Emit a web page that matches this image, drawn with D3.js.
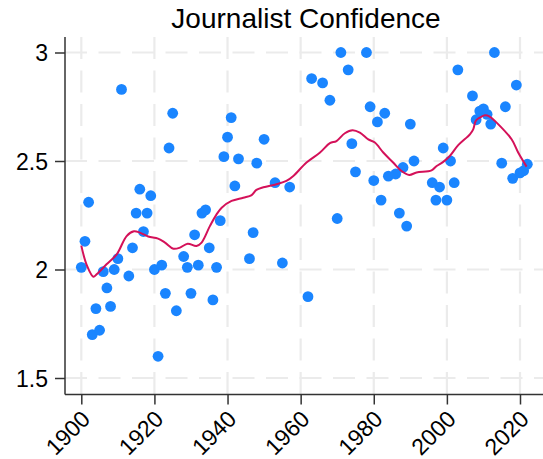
<html lang="en">
<head>
  <meta charset="UTF-8">
  <title>Journalist Confidence</title>
  <style>
    body { margin: 0; background: #fff; }
    svg { display: block; font-family: "Liberation Sans", Arial, sans-serif; }
  </style>
</head>
<body>
  <div id="chart"></div>
  <script src="https://d3js.org/d3.v7.min.js"></script>
  <script>
    // scatter data (year, mean confidence)
    const years = [1900, 1901, 1902, 1903, 1904, 1905, 1906, 1907, 1908, 1909,
      1910, 1911, 1913, 1914, 1915, 1916, 1917, 1918, 1919, 1920,
      1921, 1922, 1923, 1924, 1925, 1926, 1928, 1929, 1930, 1931,
      1932, 1933, 1934, 1935, 1936, 1937, 1938, 1939, 1940, 1941,
      1942, 1943, 1946, 1947, 1948, 1950, 1953, 1955, 1957, 1962,
      1963, 1966, 1968, 1970, 1971, 1973, 1974, 1975, 1978, 1979,
      1980, 1981, 1982, 1983, 1984, 1986, 1987, 1988, 1989, 1990,
      1991, 1996, 1997, 1998, 1999, 2000, 2001, 2002, 2003, 2007,
      2008, 2009, 2010, 2011, 2012, 2013, 2015, 2016, 2018, 2019,
      2020, 2021, 2022];
    const confidence = [2.01, 2.13, 2.31, 1.70, 1.82, 1.72, 1.99, 1.915, 1.83, 2.00,
      2.05, 2.83, 1.97, 2.10, 2.26, 2.37, 2.175, 2.26, 2.34, 2.00,
      1.60, 2.02, 1.89, 2.56, 2.72, 1.81, 2.06, 2.01, 1.89, 2.16,
      2.02, 2.26, 2.275, 2.10, 1.86, 2.01, 2.225, 2.52, 2.61, 2.70,
      2.385, 2.51, 2.05, 2.17, 2.49, 2.60, 2.40, 2.03, 2.38, 1.875,
      2.88, 2.86, 2.78, 2.235, 3.00, 2.92, 2.58, 2.45, 3.00, 2.75,
      2.41, 2.68, 2.32, 2.72, 2.43, 2.44, 2.26, 2.47, 2.20, 2.67,
      2.50, 2.40, 2.32, 2.38, 2.56, 2.32, 2.50, 2.40, 2.92, 2.80,
      2.69, 2.73, 2.74, 2.715, 2.67, 3.00, 2.49, 2.75, 2.42, 2.85,
      2.445, 2.455, 2.485];

    // smoothed trend line
    const smoothYears = [1900, 1901.5, 1903.3, 1904.2, 1906.9, 1909.7, 1912.4, 1914.4, 1916, 1918.3,
      1921, 1922.9, 1925.2, 1927, 1929.1, 1931.5, 1932.9, 1935.2, 1937, 1938.4,
      1941.1, 1944.3, 1946.6, 1947.9, 1949.8, 1953.4, 1956.1, 1958, 1961.6, 1965.3,
      1968, 1969.8, 1972.1, 1974.2, 1976.2, 1978.5, 1980.3, 1982.6, 1985.3, 1987.6,
      1989.7, 1991.7, 1995.8, 1997.2, 1999, 2000.8, 2003.1, 2006.3, 2007.2, 2007.9,
      2009, 2010.4, 2011.7, 2013.6, 2017.7, 2019.5, 2021.8];
    const smoothValues = [2.11, 2.02, 1.967, 1.978, 2.024, 2.07, 2.154, 2.176, 2.17, 2.152,
      2.142, 2.124, 2.096, 2.101, 2.119, 2.108, 2.124, 2.201, 2.254, 2.285,
      2.316, 2.331, 2.343, 2.367, 2.379, 2.393, 2.408, 2.431, 2.493, 2.539,
      2.582, 2.592, 2.628, 2.642, 2.631, 2.60, 2.585, 2.539, 2.493, 2.454,
      2.436, 2.447, 2.457, 2.477, 2.496, 2.523, 2.573, 2.623, 2.646, 2.685,
      2.70, 2.711, 2.705, 2.677, 2.60, 2.539, 2.474];

    const xTicks = [1900, 1920, 1940, 1960, 1980, 2000, 2020];
    const yTicks = [1.5, 2, 2.5, 3];

    const w = 543, h = 459;
    const plotLeft = 65, plotRight = 543, plotTop = 37, plotBottom = 394.5;

    const svg = d3.select("#chart").append("svg")
      .attr("width", w)
      .attr("height", h);

    const xScale = d3.scaleLinear().domain([1900, 2020]).range([81.3, 520]);
    const yScale = d3.scaleLinear().domain([1.5, 3]).range([378, 52.5]);

    // dashed grid
    const grid = svg.append("g")
      .attr("stroke", "#ebebeb")
      .attr("stroke-width", 2.2)
      .attr("stroke-dasharray", "22,11.5");
    grid.selectAll(".hgrid").data(yTicks).enter().append("line")
      .attr("x1", plotLeft).attr("x2", plotRight)
      .attr("y1", d => yScale(d)).attr("y2", d => yScale(d));
    grid.selectAll(".vgrid").data(xTicks).enter().append("line")
      .attr("x1", d => xScale(d)).attr("x2", d => xScale(d))
      .attr("y1", plotTop).attr("y2", plotBottom);

    // points
    svg.append("g").selectAll("circle")
      .data(years.map((y, i) => [y, confidence[i]]))
      .enter().append("circle")
      .attr("cx", d => xScale(d[0]))
      .attr("cy", d => yScale(d[1]))
      .attr("r", 5.4)
      .attr("fill", "#1a85ff");

    // smoother
    const line = d3.line()
      .x(d => xScale(d[0]))
      .y(d => yScale(d[1]))
      .curve(d3.curveCatmullRom);
    svg.append("path")
      .datum(smoothYears.map((y, i) => [y, smoothValues[i]]))
      .attr("d", line)
      .attr("fill", "none")
      .attr("stroke", "#d41159")
      .attr("stroke-width", 2);

    // axes
    const yAxis = svg.append("g")
      .attr("transform", "translate(" + plotLeft + ",0)")
      .call(d3.axisLeft(yScale).tickValues(yTicks).tickSize(10).tickPadding(7).tickFormat(d3.format("")));
    const xAxis = svg.append("g")
      .attr("transform", "translate(0," + plotBottom + ")")
      .call(d3.axisBottom(xScale).tickValues(xTicks).tickSize(10).tickFormat(d3.format("d")));

    [yAxis, xAxis].forEach(g => {
      g.select(".domain").remove();
      g.selectAll("line").attr("stroke", "#333").attr("stroke-width", 1.5);
      g.selectAll("text").attr("fill", "#000").style("font-size", "23px");
    });
    yAxis.selectAll("text").attr("dy", "0.36em");

    xAxis.selectAll("text")
      .attr("text-anchor", "end")
      .attr("dy", "0.36em")
      .attr("y", 0)
      .attr("transform", "translate(4,20) rotate(-45)");

    svg.append("line")
      .attr("x1", plotLeft).attr("x2", plotLeft)
      .attr("y1", plotTop).attr("y2", plotBottom)
      .attr("stroke", "#333").attr("stroke-width", 1.5);
    svg.append("line")
      .attr("x1", plotLeft).attr("x2", plotRight)
      .attr("y1", plotBottom).attr("y2", plotBottom)
      .attr("stroke", "#333").attr("stroke-width", 1.5);

    // title
    svg.append("text")
      .attr("x", (plotLeft + plotRight) / 2 + 2)
      .attr("y", 28)
      .attr("text-anchor", "middle")
      .style("font-size", "28px")
      .text("Journalist Confidence");
  </script>
</body>
</html>
